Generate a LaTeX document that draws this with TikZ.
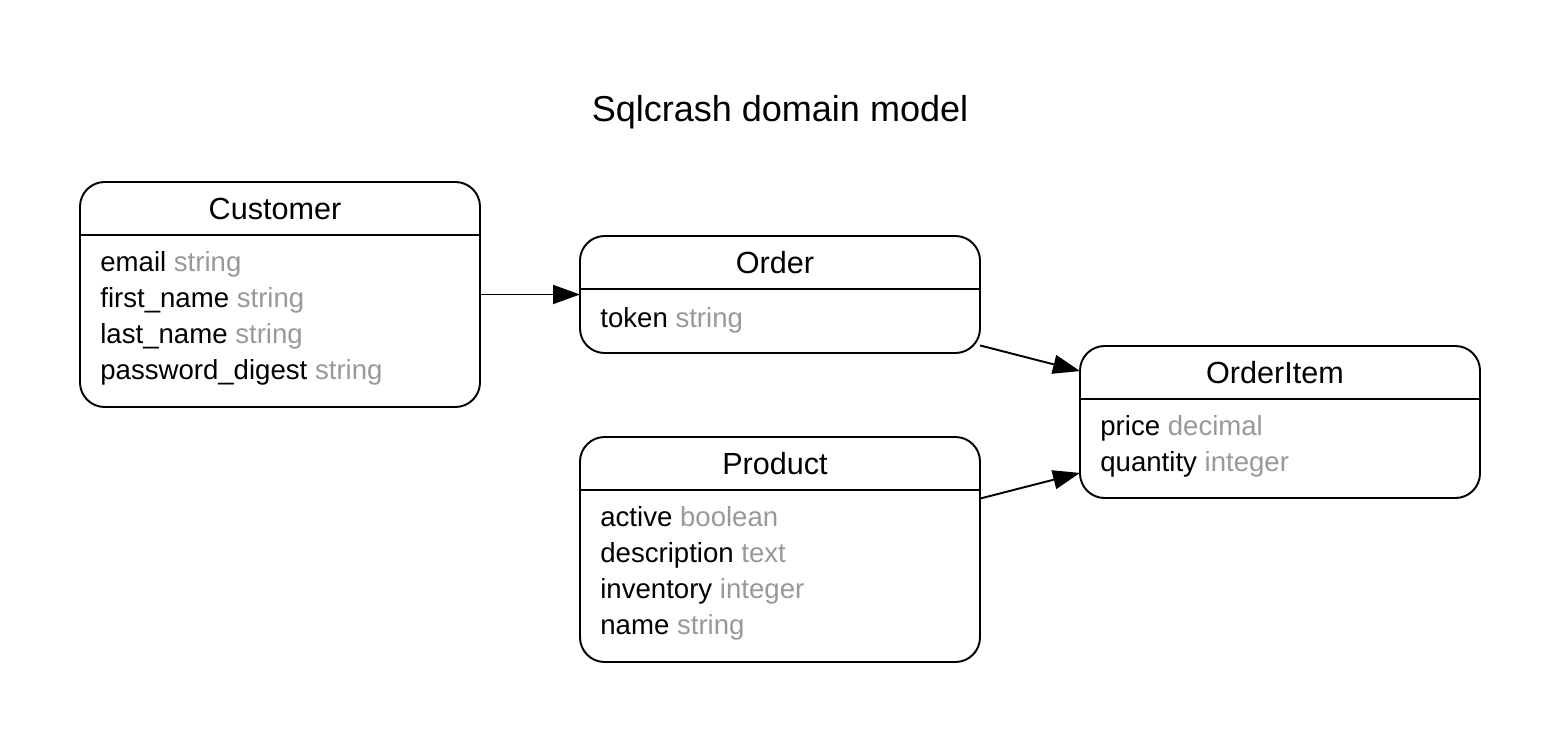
\documentclass[tikz,border=0pt]{standalone}
\usepackage{fontspec}
\setmainfont{Liberation Sans}
\usetikzlibrary{positioning,calc,arrows.meta}
\definecolor{typegray}{HTML}{999999}
\tikzstyle{entity} = [rectangle, draw, line width=1.1pt, rounded corners=14pt,
    minimum width=8cm, inner sep=0pt, outer sep=0pt]
\tikzstyle{line} = [draw, line width=1.1pt, -{Triangle[length=0.54cm,width=0.38cm]}]
\tikzset{
  header/.style={
    minimum width=8cm,
    minimum height=1.06cm,
    inner sep=0pt,
    outer sep=0pt,
    font=\fontsize{17.4}{20}\selectfont},
  attrs/.style={
    align=left,
    inner sep=0pt,
    anchor=north west,
    font=\fontsize{15.7}{20.5}\selectfont},
  title/.style={font=\fontsize{20.5}{24}\selectfont},
}
\newcommand{\kind}[1]{\textcolor{typegray}{#1}}

\begin{document}
\begin{tikzpicture}
    \useasboundingbox (0,0) rectangle (31.22,-14.88);
    % Place nodes
    \node [entity, minimum height=4.5cm] (customer) at (5.6,-5.89) {};
    \node [entity, minimum height=2.34cm, right=2cm of customer] (order) {};
    \node [entity, minimum height=4.5cm, below=1.68cm of order] (product) {};
    \node [entity, minimum height=3.04cm, anchor=west] (orderItem)
        at ($(order.east)!0.5!(product.east)+(2,0)$) {};
    \node [title] (title) at ($(order.north)+(0,2.48)$) {Sqlcrash domain model};
    % Entity names
    \node [header, anchor=north] (customerName) at (customer.north) {\hspace*{-0.2cm}Customer};
    \node [header, anchor=north] (orderName) at (order.north) {\hspace*{-0.2cm}Order};
    \node [header, anchor=north] (productName) at (product.north) {\hspace*{-0.2cm}Product};
    \node [header, anchor=north] (orderItemName) at (orderItem.north) {\hspace*{-0.2cm}OrderItem};
    \draw [line width=1.1pt] (customerName.south west) -- (customerName.south east);
    \draw [line width=1.1pt] (orderName.south west) -- (orderName.south east);
    \draw [line width=1.1pt] (productName.south west) -- (productName.south east);
    \draw [line width=1.1pt] (orderItemName.south west) -- (orderItemName.south east);
    % Attributes
    \node [attrs, below right=0.33cm and 0.4cm of customerName.south west] (customerAttrs)
        {email \kind{string}\\first\_name \kind{string}\\last\_name \kind{string}\\password\_digest \kind{string}};
    \node [attrs, below right=0.36cm and 0.4cm of orderName.south west] (orderAttrs)
        {token \kind{string}};
    \node [attrs, below right=0.33cm and 0.4cm of productName.south west] (productAttrs)
        {active \kind{boolean}\\description \kind{text}\\inventory \kind{integer}\\name \kind{string}};
    \node [attrs, below right=0.33cm and 0.4cm of orderItemName.south west] (orderItemAttrs)
        {price \kind{decimal}\\quantity \kind{integer}};
    % Draw edges
    \path [line] (customer) -- (order);
    \path [line] (order) -- (orderItem);
    \path [line] (product) -- (orderItem);
\end{tikzpicture}
\end{document}
